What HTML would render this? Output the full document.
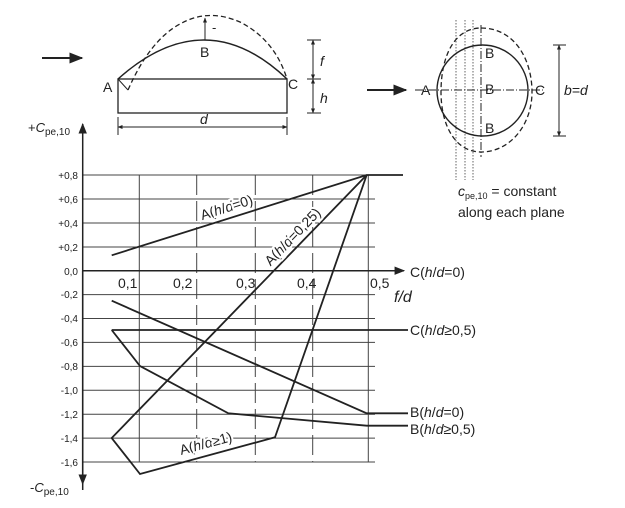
<!DOCTYPE html>
<html><head><meta charset="utf-8"><style>
html,body{margin:0;padding:0;background:#fff;}
svg{display:block;font-family:"Liberation Sans",sans-serif;}
</style></head><body>
<svg width="625" height="508" viewBox="0 0 625 508" xmlns="http://www.w3.org/2000/svg">
<defs>
<marker id="ah" viewBox="0 0 10 10" refX="9" refY="5" markerWidth="7" markerHeight="7" orient="auto-start-reverse"><path d="M0,1 L10,5 L0,9 z" fill="#222"/></marker>
<marker id="sa" viewBox="0 0 10 10" refX="9" refY="5" markerWidth="5" markerHeight="5" orient="auto-start-reverse"><path d="M0,1 L10,5 L0,9 z" fill="#222"/></marker>
</defs>
<g stroke="#222" fill="none">
<!-- top-left diagram -->
<line x1="42" y1="58" x2="82" y2="58" stroke-width="2" marker-end="url(#ah)"/>
<rect x="118" y="79" width="169" height="34" stroke-width="1.3"/>
<path d="M118,79 Q205,1 287,79" stroke-width="1.5"/>
<path d="M128,90 Q150,40 180,24 Q208,8 240,22 Q275,40 287,79" stroke-width="1.3" stroke-dasharray="5,3"/>
<line x1="118" y1="79" x2="128" y2="90" stroke-width="1"/>
<line x1="205" y1="18" x2="205" y2="40" stroke-width="1" marker-start="url(#sa)"/>
<line x1="313" y1="40" x2="313" y2="79" stroke-width="1" marker-start="url(#sa)" marker-end="url(#sa)"/>
<line x1="313" y1="79" x2="313" y2="113" stroke-width="1" marker-start="url(#sa)" marker-end="url(#sa)"/>
<line x1="307" y1="40" x2="321" y2="40"/><line x1="307" y1="79" x2="321" y2="79"/><line x1="307" y1="113" x2="321" y2="113"/>
<line x1="118" y1="127" x2="287" y2="127" stroke-width="1" marker-start="url(#sa)" marker-end="url(#sa)"/>
<line x1="118" y1="117" x2="118" y2="135"/><line x1="287" y1="117" x2="287" y2="135"/>
<!-- top-right diagram -->
<line x1="367" y1="90" x2="406" y2="90" stroke-width="2" marker-end="url(#ah)"/>
<g stroke-width="0.7" stroke-dasharray="1.5,1.5"><line x1="456" y1="20" x2="456" y2="180"/><line x1="465" y1="20" x2="465" y2="180"/><line x1="473" y1="20" x2="473" y2="180"/></g>
<line x1="481" y1="25" x2="481" y2="157" stroke-width="1" stroke-dasharray="8,2,1,2"/>
<line x1="415" y1="90" x2="545" y2="90" stroke-width="1" stroke-dasharray="8,2,1,2"/>
<circle cx="482.5" cy="90.5" r="45.5" stroke-width="1.4"/>
<path d="M481,28 C515,28 532,60 532,92 C532,125 510,152 481,152 C455,152 441,125 441,92 C441,55 455,28 481,28 z" stroke-width="1.3" stroke-dasharray="5,3"/>
<line x1="559" y1="45" x2="559" y2="136" stroke-width="1" marker-start="url(#sa)" marker-end="url(#sa)"/>
<line x1="553" y1="45" x2="566" y2="45"/><line x1="553" y1="136" x2="566" y2="136"/>
<!-- grid -->
<g stroke="#444" stroke-width="1">
<line x1="82.7" y1="175" x2="375" y2="175"/><line x1="82.7" y1="199" x2="375" y2="199"/><line x1="82.7" y1="223" x2="375" y2="223"/><line x1="82.7" y1="247" x2="375" y2="247"/>
<line x1="82.7" y1="294.6" x2="375" y2="294.6"/><line x1="82.7" y1="318.5" x2="375" y2="318.5"/><line x1="82.7" y1="342.4" x2="375" y2="342.4"/><line x1="82.7" y1="366.4" x2="375" y2="366.4"/>
<line x1="82.7" y1="390.3" x2="375" y2="390.3"/><line x1="82.7" y1="414.2" x2="375" y2="414.2"/><line x1="82.7" y1="438.1" x2="375" y2="438.1"/><line x1="82.7" y1="462" x2="375" y2="462"/>
<line x1="139.3" y1="175" x2="139.3" y2="462"/><line x1="196.7" y1="175" x2="196.7" y2="462" stroke-dasharray="20,6"/><line x1="255.3" y1="175" x2="255.3" y2="462" stroke-dasharray="20,6"/><line x1="312.7" y1="175" x2="312.7" y2="462" stroke-dasharray="20,6"/><line x1="368.3" y1="175" x2="368.3" y2="462"/>
</g>
<line x1="82.7" y1="490" x2="82.7" y2="124" stroke-width="1.5" marker-end="url(#ah)"/>
<line x1="82.7" y1="270.7" x2="82.7" y2="484" stroke-width="1.5" marker-end="url(#ah)"/>
<line x1="82.7" y1="270.7" x2="404" y2="270.7" stroke-width="1.5" marker-end="url(#ah)"/>
<!-- curves -->
<g stroke-width="1.8">
<polyline points="111.7,255.3 366.7,175 403,175"/>
<polyline points="366.7,175 275,437.3 140,474 111.7,438 366.7,175"/>
<line x1="111.7" y1="330" x2="408" y2="330"/>
<polyline points="111.7,300.7 366.7,413.3 408,413.3"/>
<polyline points="111.7,330 140,366 228.3,413.3 366.7,425.7 408,425.7"/>
</g>
</g>
<g fill="#222" font-size="14">
<text x="103" y="92">A</text><text x="288" y="89">C</text><text x="200" y="57">B</text>
<text x="212" y="32" font-size="13">-</text>
<text x="320" y="66" font-style="italic">f</text><text x="320" y="103" font-style="italic">h</text><text x="200" y="124" font-style="italic">d</text>
<text x="421" y="95">A</text><text x="535" y="95">C</text>
<text x="485" y="58">B</text><text x="485" y="94">B</text><text x="485" y="133">B</text>
<text x="564" y="95" font-style="italic">b=d</text>
<text x="458" y="196"><tspan font-style="italic">c</tspan><tspan font-size="9" dy="3">pe,10</tspan><tspan dy="-3"> = constant</tspan></text>
<text x="458" y="217">along each plane</text>
<text x="28" y="132" font-size="13">+<tspan font-style="italic">C</tspan><tspan font-size="10" dy="3">pe,10</tspan></text>
<text x="30" y="492" font-size="13">-<tspan font-style="italic">C</tspan><tspan font-size="10" dy="3">pe,10</tspan></text>
<g font-size="10" text-anchor="end">
<text x="78" y="179">+0,8</text><text x="78" y="203">+0,6</text><text x="78" y="227">+0,4</text><text x="78" y="251">+0,2</text><text x="78" y="275">0,0</text>
<text x="78" y="298">-0,2</text><text x="78" y="322">-0,4</text><text x="78" y="346">-0,6</text><text x="78" y="370">-0,8</text><text x="78" y="394">-1,0</text><text x="78" y="418">-1,2</text><text x="78" y="442">-1,4</text><text x="78" y="466">-1,6</text>
</g>
<g font-size="14"><text x="118" y="288">0,1</text><text x="173" y="288">0,2</text><text x="236" y="288">0,3</text><text x="297" y="288">0,4</text><text x="370" y="288">0,5</text></g>
<text x="394" y="302" font-size="16" font-style="italic">f/d</text>
<text x="410" y="277">C(<tspan font-style="italic">h</tspan>/<tspan font-style="italic">d</tspan>=0)</text>
<text x="410" y="335">C(<tspan font-style="italic">h</tspan>/<tspan font-style="italic">d</tspan>≥0,5)</text>
<text x="410" y="417">B(<tspan font-style="italic">h</tspan>/<tspan font-style="italic">d</tspan>=0)</text>
<text x="410" y="434">B(<tspan font-style="italic">h</tspan>/<tspan font-style="italic">d</tspan>≥0,5)</text>
<text transform="translate(228,212) rotate(-17.5)" text-anchor="middle" stroke="#fff" stroke-width="4" paint-order="stroke">A(<tspan font-style="italic">h</tspan>/<tspan font-style="italic">d</tspan>=0)</text>
<text transform="translate(296,240) rotate(-46)" text-anchor="middle" stroke="#fff" stroke-width="4" paint-order="stroke">A(<tspan font-style="italic">h</tspan>/<tspan font-style="italic">d</tspan>=0,25)</text>
<text transform="translate(207,448) rotate(-15)" text-anchor="middle" stroke="#fff" stroke-width="4" paint-order="stroke">A(<tspan font-style="italic">h</tspan>/<tspan font-style="italic">d</tspan>≥1)</text>
</g>
</svg>
</body></html>
